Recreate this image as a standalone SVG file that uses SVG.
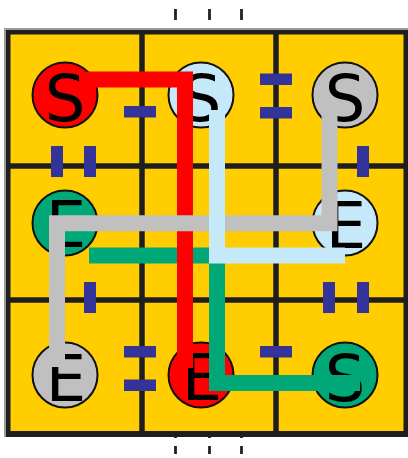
<svg xmlns="http://www.w3.org/2000/svg" width="408" height="458" viewBox="0 0 408 458">
<style>
.tick{stroke:#222;stroke-width:2.8;stroke-dasharray:11 8;fill:none}
.grid{stroke:#1e1e1e;stroke-width:5.5;fill:none}
.frame{fill:#1e1e1e}
.dash{fill:#333399}
.node circle{stroke:#111;stroke-width:2}
.node text{font-family:"DejaVu Sans",sans-serif;font-size:64px;fill:#000;text-anchor:middle}
.wire{fill:none;stroke-width:16;stroke-linecap:butt;stroke-linejoin:miter}
</style>
<rect x="0" y="0" width="408" height="458" fill="#fff"/>
<g id="ticks">
<line class="tick" x1="175.5" y1="9" x2="175.5" y2="454"/>
<line class="tick" x1="209.5" y1="9" x2="209.5" y2="454"/>
<line class="tick" x1="241.5" y1="9" x2="241.5" y2="454"/>
</g>
<g id="board">
<rect x="6" y="30" width="402" height="407" fill="#ffcd00"/>
<line class="grid" x1="142" y1="30" x2="142" y2="437"/>
<line class="grid" x1="276" y1="30" x2="276" y2="437"/>
<line class="grid" x1="6" y1="166" x2="408" y2="166"/>
<line class="grid" x1="6" y1="300" x2="408" y2="300"/>
<rect x="4" y="28" width="404" height="2" fill="#9a9a9a"/>
<rect x="4" y="28" width="2" height="409" fill="#9a9a9a"/>
<rect class="frame" x="6" y="30" width="402" height="4.5"/>
<rect class="frame" x="6" y="431" width="402" height="6"/>
<rect class="frame" x="6" y="30" width="4.5" height="407"/>
<rect class="frame" x="403.5" y="30" width="4.5" height="407"/>
</g>
<g id="bridges">
<rect class="dash" x="124" y="106" width="32" height="11.5"/>
<rect class="dash" x="260" y="73.5" width="32" height="11.5"/>
<rect class="dash" x="260" y="107" width="32" height="11.5"/>
<rect class="dash" x="124" y="346" width="32" height="11.5"/>
<rect class="dash" x="124" y="379.5" width="32" height="11.5"/>
<rect class="dash" x="260" y="346" width="32" height="11.5"/>
<rect class="dash" x="51" y="146" width="12" height="31"/>
<rect class="dash" x="84" y="146" width="12" height="31"/>
<rect class="dash" x="357" y="146" width="12" height="31"/>
<rect class="dash" x="84" y="282" width="12" height="31"/>
<rect class="dash" x="323" y="282" width="12" height="31"/>
<rect class="dash" x="357" y="282" width="12" height="31"/>
</g>
<g id="node-s-red" class="node"><circle cx="65" cy="95" r="32.5" fill="#ff0000"/><text x="65" y="121">S</text></g>
<g id="node-s-blue" class="node"><circle cx="201" cy="95" r="32.5" fill="#c6e9f9"/><text x="201" y="121">S</text></g>
<g id="node-s-gray" class="node"><circle cx="345" cy="95" r="32.5" fill="#c0c0c0"/><text x="345" y="121">S</text></g>
<g id="node-e-green" class="node"><circle cx="65" cy="223" r="32.5" fill="#00a878"/><text x="66" y="247">E</text></g>
<g id="node-e-blue" class="node"><circle cx="345" cy="223" r="32.5" fill="#c6e9f9"/><text x="346" y="248">E</text></g>
<g id="node-e-gray" class="node"><circle cx="65" cy="375" r="32.5" fill="#c0c0c0"/><text x="66" y="401">E</text></g>
<g id="node-e-red" class="node"><circle cx="201" cy="375" r="32.5" fill="#ff0000"/><text x="202" y="400">E</text></g>
<g id="node-s-green" class="node"><circle cx="345" cy="375" r="32.5" fill="#00a878"/><text x="345" y="401">S</text></g>
<g id="connectors">
<path class="wire" stroke="#00a878" d="M89 255.5 H217 V383 H360"/>
<path class="wire" stroke="#ff0000" d="M87 79.5 H185 V368"/>
<path class="wire" stroke="#c0c0c0" d="M329.5 110 V223.3 H57 V367"/>
<path class="wire" stroke="#c6e9f9" d="M217 110 V255.5 H345"/>
</g>
</svg>
